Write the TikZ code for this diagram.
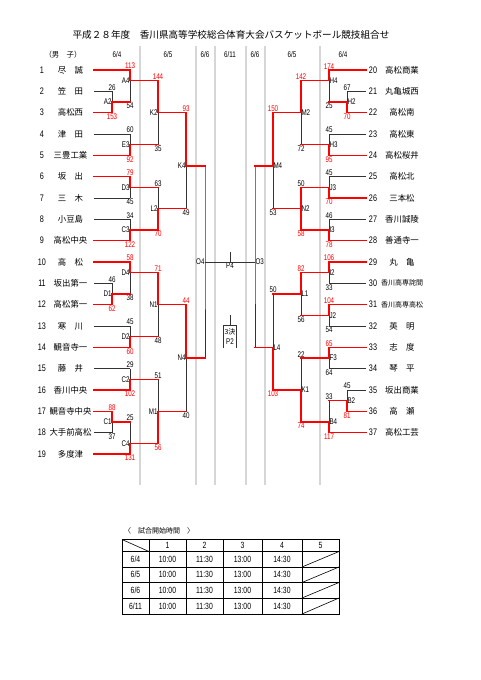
\documentclass[tikz,border=0pt]{standalone}
\usepackage{fontspec}
\setmainfont{Liberation Sans}
\newfontfamily\jp{Noto Sans CJK JP}
\newfontfamily\nar[FakeStretch=0.76]{Liberation Sans}
\newcommand{\scf}{\nar\fontsize{8.2}{9}\selectfont}
\newcommand{\nmf}{\nar\fontsize{9.5}{10}\selectfont}
\newcommand{\tmf}{\jp\fontsize{8.4}{9}\selectfont}
\newcommand{\smf}{\jp\fontsize{7}{8}\selectfont}
\newcommand{\tbf}{\nar\fontsize{9}{9}\selectfont}

\begin{document}
\begin{tikzpicture}[x=1pt, y=-1pt]

\tikzstyle{every node} = [inner sep=0.8pt]
\tikzstyle{hi} = [draw=red, line width=1.6pt, line cap=rect]
\tikzstyle{lo} = [draw=black!80, line width=0.7pt]
\tikzstyle{col} = [draw=black!16, line width=1.4pt]
\tikzstyle{up} = [anchor=south, font=\scf]
\tikzstyle{dn} = [anchor=north, font=\scf]
\tikzstyle{jl} = [anchor=east, inner sep=0.3pt, font=\scf]
\tikzstyle{jr} = [anchor=west, inner sep=0.3pt, font=\scf]
\tikzstyle{num} = [font=\nmf]
\tikzstyle{team} = [font=\tmf]
\tikzstyle{cell} = [font=\tbf]

\useasboundingbox (0,0) rectangle (481,680);

% title and day headers
\node[font=\jp\fontsize{9.6}{10}\selectfont] (title) at (231,35) {平成２８年度　香川県高等学校総合体育大会バスケットボール競技組合せ};
\node[font=\jp\fontsize{7.4}{8}\selectfont] (sex) at (63,55) {（男　子）};
\node[font=\scf] (hd1) at (117,55) {6/4};
\node[font=\scf] (hd2) at (168,55) {6/5};
\node[font=\scf] (hd3) at (205,55) {6/6};
\node[font=\scf] (hd4) at (230,55) {6/11};
\node[font=\scf] (hd5) at (255,55) {6/6};
\node[font=\scf] (hd6) at (292,55) {6/5};
\node[font=\scf] (hd7) at (343,55) {6/4};

% day columns
\draw[col] (140,46) -- (140,485);
\draw[col] (196,46) -- (196,485);
\draw[col] (215,46) -- (215,485);
\draw[col] (246,46) -- (246,485);
\draw[col] (265,46) -- (265,485);
\draw[col] (320,46) -- (320,485);

\begin{scope}[shift={(0,70)}, y=-10.667pt]

% left teams
\node[num] (n1) at (42,0) {1};
\node[team] (t1) at (70.5,0) {尽　誠};
\coordinate (s1) at (94,0);
\node[num] (n2) at (42,2) {2};
\node[team] (t2) at (70.5,2) {笠　田};
\coordinate (s2) at (94,2);
\node[num] (n3) at (42,4) {3};
\node[team] (t3) at (70.5,4) {高松西};
\coordinate (s3) at (94,4);
\node[num] (n4) at (42,6) {4};
\node[team] (t4) at (70.5,6) {津　田};
\coordinate (s4) at (94,6);
\node[num] (n5) at (42,8) {5};
\node[team] (t5) at (70.5,8) {三豊工業};
\coordinate (s5) at (94,8);
\node[num] (n6) at (42,10) {6};
\node[team] (t6) at (70.5,10) {坂　出};
\coordinate (s6) at (94,10);
\node[num] (n7) at (42,12) {7};
\node[team] (t7) at (70.5,12) {三　木};
\coordinate (s7) at (94,12);
\node[num] (n8) at (42,14) {8};
\node[team] (t8) at (70.5,14) {小豆島};
\coordinate (s8) at (94,14);
\node[num] (n9) at (42,16) {9};
\node[team] (t9) at (70.5,16) {高松中央};
\coordinate (s9) at (94,16);
\node[num] (n10) at (42,18) {10};
\node[team] (t10) at (70.5,18) {高　松};
\coordinate (s10) at (94,18);
\node[num] (n11) at (42,20) {11};
\node[team] (t11) at (70.5,20) {坂出第一};
\coordinate (s11) at (94,20);
\node[num] (n12) at (42,22) {12};
\node[team] (t12) at (70.5,22) {高松第一};
\coordinate (s12) at (94,22);
\node[num] (n13) at (42,24) {13};
\node[team] (t13) at (70.5,24) {寒　川};
\coordinate (s13) at (94,24);
\node[num] (n14) at (42,26) {14};
\node[team] (t14) at (70.5,26) {観音寺一};
\coordinate (s14) at (94,26);
\node[num] (n15) at (42,28) {15};
\node[team] (t15) at (70.5,28) {藤　井};
\coordinate (s15) at (94,28);
\node[num] (n16) at (42,30) {16};
\node[team] (t16) at (70.5,30) {香川中央};
\coordinate (s16) at (94,30);
\node[num] (n17) at (42,32) {17};
\node[team] (t17) at (70.5,32) {観音寺中央};
\coordinate (s17) at (94,32);
\node[num] (n18) at (42,34) {18};
\node[team] (t18) at (70.5,34) {大手前高松};
\coordinate (s18) at (94,34);
\node[num] (n19) at (42,36) {19};
\node[team] (t19) at (70.5,36) {多度津};
\coordinate (s19) at (94,36);

% right teams
\node[num] (n20) at (373,0) {20};
\node[team] (t20) at (402,0) {高松商業};
\coordinate (s20) at (366,0);
\node[num] (n21) at (373,2) {21};
\node[team] (t21) at (402,2) {丸亀城西};
\coordinate (s21) at (366,2);
\node[num] (n22) at (373,4) {22};
\node[team] (t22) at (402,4) {高松南};
\coordinate (s22) at (366,4);
\node[num] (n23) at (373,6) {23};
\node[team] (t23) at (402,6) {高松東};
\coordinate (s23) at (366,6);
\node[num] (n24) at (373,8) {24};
\node[team] (t24) at (402,8) {高松桜井};
\coordinate (s24) at (366,8);
\node[num] (n25) at (373,10) {25};
\node[team] (t25) at (402,10) {高松北};
\coordinate (s25) at (366,10);
\node[num] (n26) at (373,12) {26};
\node[team] (t26) at (402,12) {三本松};
\coordinate (s26) at (366,12);
\node[num] (n27) at (373,14) {27};
\node[team] (t27) at (402,14) {香川誠陵};
\coordinate (s27) at (366,14);
\node[num] (n28) at (373,16) {28};
\node[team] (t28) at (402,16) {善通寺一};
\coordinate (s28) at (366,16);
\node[num] (n29) at (373,18) {29};
\node[team] (t29) at (402,18) {丸　亀};
\coordinate (s29) at (366,18);
\node[num] (n30) at (373,20) {30};
\node[font=\smf] (t30) at (402,20) {香川高専詫間};
\coordinate (s30) at (366,20);
\node[num] (n31) at (373,22) {31};
\node[font=\smf] (t31) at (402,22) {香川高専高松};
\coordinate (s31) at (366,22);
\node[num] (n32) at (373,24) {32};
\node[team] (t32) at (402,24) {英　明};
\coordinate (s32) at (366,24);
\node[num] (n33) at (373,26) {33};
\node[team] (t33) at (402,26) {志　度};
\coordinate (s33) at (366,26);
\node[num] (n34) at (373,28) {34};
\node[team] (t34) at (402,28) {琴　平};
\coordinate (s34) at (366,28);
\node[num] (n35) at (373,30) {35};
\node[team] (t35) at (402,30) {坂出商業};
\coordinate (s35) at (366,30);
\node[num] (n36) at (373,32) {36};
\node[team] (t36) at (402,32) {高　瀬};
\coordinate (s36) at (366,32);
\node[num] (n37) at (373,34) {37};
\node[team] (t37) at (402,34) {高松工芸};
\coordinate (s37) at (366,34);

% left games, 6/4
\node[up] (a2t) at (112,2) {26};
\node[dn, red] (a2b) at (112,4) {153};
\node[jl] (A2) at (112,3) {A2};
\node[up, red] (a4t) at (130,0) {113};
\node[dn] (a4b) at (130,3) {54};
\node[jl] (A4) at (130,1) {A4};
\node[up] (e3t) at (130,6) {60};
\node[dn, red] (e3b) at (130,8) {92};
\node[jl] (E3) at (130,7) {E3};
\node[up, red] (d3t) at (130,10) {79};
\node[dn] (d3b) at (130,12) {45};
\node[jl] (D3) at (130,11) {D3};
\node[up] (c3t) at (130,14) {34};
\node[dn, red] (c3b) at (130,16) {122};
\node[jl] (C3) at (130,15) {C3};
\node[up] (d1t) at (112,20) {46};
\node[dn, red] (d1b) at (112,22) {62};
\node[jl] (D1) at (112,21) {D1};
\node[up, red] (d4t) at (130,18) {58};
\node[dn] (d4b) at (130,21) {38};
\node[jl] (D4) at (130,19) {D4};
\node[up] (d2t) at (130,24) {45};
\node[dn, red] (d2b) at (130,26) {60};
\node[jl] (D2) at (130,25) {D2};
\node[up] (c2t) at (130,28) {29};
\node[dn, red] (c2b) at (130,30) {102};
\node[jl] (C2) at (130,29) {C2};
\node[up, red] (c1t) at (112,32) {88};
\node[dn] (c1b) at (112,34) {37};
\node[jl] (C1) at (112,33) {C1};
\node[up] (c4t) at (130,33) {25};
\node[dn, red] (c4b) at (130,36) {131};
\node[jl] (C4) at (130,35) {C4};

% left games, 6/5 and 6/6
\node[up, red] (k2t) at (158,1) {144};
\node[dn] (k2b) at (158,7) {35};
\node[jl] (K2) at (158,4) {K2};
\node[up] (l2t) at (158,11) {63};
\node[dn, red] (l2b) at (158,15) {70};
\node[jl] (L2) at (158,13) {L2};
\node[up, red] (n1t) at (158,19) {71};
\node[dn] (n1b) at (158,25) {48};
\node[jl] (N1) at (158,22) {N1};
\node[up] (m1t) at (158,29) {51};
\node[dn, red] (m1b) at (158,35) {56};
\node[jl] (M1) at (158,32) {M1};
\node[up, red] (k4t) at (186,4) {93};
\node[dn] (k4b) at (186,13) {49};
\node[jl] (K4) at (186,9) {K4};
\node[up, red] (n4t) at (186,22) {44};
\node[dn] (n4b) at (186,32) {40};
\node[jl] (N4) at (186,27) {N4};
\coordinate (f1) at (205,9);
\coordinate (f2) at (205,27);
\node[jl] (O4) at (205,18) {O4};

% right games, 6/4
\node[up] (h2t) at (347,2) {67};
\node[dn, red] (h2b) at (347,4) {70};
\node[jr] (H2) at (347,3) {H2};
\node[up, red] (h4t) at (329,0) {174};
\node[dn] (h4b) at (329,3) {25};
\node[jr] (H4) at (329,1) {H4};
\node[up] (h3t) at (329,6) {45};
\node[dn, red] (h3b) at (329,8) {95};
\node[jr] (H3) at (329,7) {H3};
\node[up] (j3t) at (329,10) {45};
\node[dn, red] (j3b) at (329,12) {70};
\node[jr] (J3) at (329,11) {J3};
\node[up] (i3t) at (329,14) {46};
\node[dn, red] (i3b) at (329,16) {78};
\node[jr] (I3) at (329,15) {I3};
\node[up, red] (i2t) at (329,18) {106};
\node[dn] (i2b) at (329,20) {33};
\node[jr] (I2) at (329,19) {I2};
\node[up, red] (j2t) at (329,22) {104};
\node[dn] (j2b) at (329,24) {54};
\node[jr] (J2) at (329,23) {J2};
\node[up, red] (f3t) at (329,26) {65};
\node[dn] (f3b) at (329,28) {64};
\node[jr] (F3) at (329,27) {F3};
\node[up] (b2t) at (347,30) {45};
\node[dn, red] (b2b) at (347,32) {81};
\node[jr] (B2) at (347,31) {B2};
\node[up] (b4t) at (329,31) {33};
\node[dn, red] (b4b) at (329,34) {117};
\node[jr] (B4) at (329,33) {B4};

% right games, 6/5 and 6/6
\node[up, red] (m2t) at (301,1) {142};
\node[dn] (m2b) at (301,7) {72};
\node[jr] (M2) at (301,4) {M2};
\node[up] (n2t) at (301,11) {50};
\node[dn, red] (n2b) at (301,15) {58};
\node[jr] (N2) at (301,13) {N2};
\node[up, red] (l1t) at (301,19) {82};
\node[dn] (l1b) at (301,23) {56};
\node[jr] (L1) at (301,21) {L1};
\node[up] (k1t) at (301,27) {22};
\node[dn, red] (k1b) at (301,33) {74};
\node[jr] (K1) at (301,30) {K1};
\node[up, red] (m4t) at (273,4) {150};
\node[dn] (m4b) at (273,13) {53};
\node[jr] (M4) at (273,9) {M4};
\node[up] (l4t) at (273,21) {50};
\node[dn, red] (l4b) at (273,30) {103};
\node[jr] (L4) at (273,26) {L4};
\coordinate (g1) at (255,9);
\coordinate (g2) at (255,26);
\node[jr] (O3) at (255,18) {O3};

% final and 3rd place
\node[font=\scf, anchor=north] (P4) at (230,18) {P4};
\coordinate (p4top) at (230,17.05);
\node[font=\jp\fontsize{7}{7}\selectfont, inner sep=0pt] (p2a) at (230,24.56) {3決};
\node[font=\scf, inner sep=0pt] (P2) at (230,25.5) {P2};
\coordinate (p2top) at (230,22.97);
\coordinate (p2mid) at (230,23.9);

% left lines
\draw[lo] (s2) -- (a2t.south);
\draw[lo] (s4) -- (e3t.south);
\draw[lo] (s7) -- (d3b.north);
\draw[lo] (s8) -- (c3t.south);
\draw[lo] (s11) -- (d1t.south);
\draw[lo] (s13) -- (d2t.south);
\draw[lo] (s15) -- (c2t.south);
\draw[lo] (s18) -- (c1b.north);
\draw[lo] (a2t.south) -- (A2.east);
\draw[lo] (A4.east) -- (a4b.north);
\draw[lo] (e3t.south) -- (E3.east);
\draw[lo] (K2.east) -- (k2b.north);
\draw[lo] (D3.east) -- (d3b.north);
\draw[lo] (c3t.south) -- (C3.east);
\draw[lo] (l2t.south) -- (L2.east);
\draw[lo] (K4.east) -- (k4b.north);
\draw[lo] (d1t.south) -- (D1.east);
\draw[lo] (D4.east) -- (d4b.north);
\draw[lo] (d2t.south) -- (D2.east);
\draw[lo] (N1.east) -- (n1b.north);
\draw[lo] (c2t.south) -- (C2.east);
\draw[lo] (C1.east) -- (c1b.north);
\draw[lo] (c4t.south) -- (C4.east);
\draw[lo] (m1t.south) -- (M1.east);
\draw[lo] (N4.east) -- (n4b.north);
\draw[lo] (f1) -- (O4.east) -- (f2);
\draw[lo] (O4.east) -- (O3.west);
\draw[lo] (p4top) -- (P4.north);

\draw[hi] (s1) -- (a4t.south);
\draw[hi] (s3) -- (a2b.north);
\draw[hi] (s5) -- (e3b.north);
\draw[hi] (s6) -- (d3t.south);
\draw[hi] (s9) -- (c3b.north);
\draw[hi] (s10) -- (d4t.south);
\draw[hi] (s12) -- (d1b.north);
\draw[hi] (s14) -- (d2b.north);
\draw[hi] (s16) -- (c2b.north);
\draw[hi] (s17) -- (c1t.south);
\draw[hi] (s19) -- (c4b.north);
\draw[hi] (a2b.north) -- (A2.east) -- (a4b.north);
\draw[hi] (a4t.south) -- (A4.east) -- (k2t.south);
\draw[hi] (e3b.north) -- (E3.east) -- (k2b.north);
\draw[hi] (k2t.south) -- (K2.east) -- (k4t.south);
\draw[hi] (d3t.south) -- (D3.east) -- (l2t.south);
\draw[hi] (c3b.north) -- (C3.east) -- (l2b.north);
\draw[hi] (l2b.north) -- (L2.east) -- (k4b.north);
\draw[hi] (k4t.south) -- (K4.east) -- (f1);
\draw[hi] (d1b.north) -- (D1.east) -- (d4b.north);
\draw[hi] (d4t.south) -- (D4.east) -- (n1t.south);
\draw[hi] (d2b.north) -- (D2.east) -- (n1b.north);
\draw[hi] (n1t.south) -- (N1.east) -- (n4t.south);
\draw[hi] (c2b.north) -- (C2.east) -- (m1t.south);
\draw[hi] (c1t.south) -- (C1.east) -- (c4t.south);
\draw[hi] (c4b.north) -- (C4.east) -- (m1b.north);
\draw[hi] (m1b.north) -- (M1.east) -- (n4b.north);
\draw[hi] (n4t.south) -- (N4.east) -- (f2);

% right lines
\draw[lo] (s21) -- (h2t.south);
\draw[lo] (s23) -- (h3t.south);
\draw[lo] (s25) -- (j3t.south);
\draw[lo] (s27) -- (i3t.south);
\draw[lo] (s30) -- (i2b.north);
\draw[lo] (s32) -- (j2b.north);
\draw[lo] (s34) -- (f3b.north);
\draw[lo] (s35) -- (b2t.south);
\draw[lo] (h2t.south) -- (H2.west);
\draw[lo] (H4.west) -- (h4b.north);
\draw[lo] (h3t.south) -- (H3.west);
\draw[lo] (M2.west) -- (m2b.north);
\draw[lo] (j3t.south) -- (J3.west);
\draw[lo] (i3t.south) -- (I3.west);
\draw[lo] (M4.west) -- (m4b.north);
\draw[lo] (I2.west) -- (i2b.north);
\draw[lo] (J2.west) -- (j2b.north);
\draw[lo] (L1.west) -- (l1b.north);
\draw[lo] (F3.west) -- (f3b.north);
\draw[lo] (b2t.south) -- (B2.west);
\draw[lo] (b4t.south) -- (B4.west);
\draw[lo] (k1t.south) -- (K1.west);
\draw[lo] (l4t.south) -- (L4.west);
\draw[lo] (g1) -- (O3.west) -- (g2);

\draw[hi] (s20) -- (h4t.south);
\draw[hi] (s22) -- (h2b.north);
\draw[hi] (s24) -- (h3b.north);
\draw[hi] (s26) -- (j3b.north);
\draw[hi] (s28) -- (i3b.north);
\draw[hi] (s29) -- (i2t.south);
\draw[hi] (s31) -- (j2t.south);
\draw[hi] (s33) -- (f3t.south);
\draw[hi] (s36) -- (b2b.north);
\draw[hi] (s37) -- (b4b.north);
\draw[hi] (h2b.north) -- (H2.west) -- (h4b.north);
\draw[hi] (h4t.south) -- (H4.west) -- (m2t.south);
\draw[hi] (h3b.north) -- (H3.west) -- (m2b.north);
\draw[hi] (m2t.south) -- (M2.west) -- (m4t.south);
\draw[hi] (j3b.north) -- (J3.west) -- (n2t.south);
\draw[hi] (i3b.north) -- (I3.west) -- (n2b.north);
\draw[hi] (n2t.south) -- (N2.west) -- (n2b.north);
\draw[hi] (N2.west) -- (m4b.north);
\draw[hi] (m4t.south) -- (M4.west) -- (g1);
\draw[hi] (i2t.south) -- (I2.west) -- (l1t.south);
\draw[hi] (j2t.south) -- (J2.west) -- (l1b.north);
\draw[hi] (l1t.south) -- (L1.west) -- (l4t.south);
\draw[hi] (f3t.south) -- (F3.west) -- (k1t.south);
\draw[hi] (b2b.north) -- (B2.west) -- (b4t.south);
\draw[hi] (b4b.north) -- (B4.west) -- (k1b.north);
\draw[hi] (k1b.north) -- (K1.west) -- (l4b.north);
\draw[hi] (l4b.north) -- (L4.west) -- (g2);

% 3rd place mark
\draw[lo] (p2top) -- (p2mid);
\draw[lo] (223,26.06) -- (223,23.9) -- (236,23.9) -- (236,26.06);
\end{scope}

% start times
\node[font=\jp\fontsize{7}{8}\selectfont, anchor=west] (cap) at (123,531) {〈　試合開始時間　〉};
\draw[line width=0.6pt] (149,539.5) -- (149,614);
\draw[line width=0.6pt] (186,539.5) -- (186,614);
\draw[line width=0.6pt] (223,539.5) -- (223,614);
\draw[line width=0.6pt] (262,539.5) -- (262,614);
\draw[line width=0.6pt] (302,539.5) -- (302,614);
\draw[line width=0.6pt] (122,551.5) -- (339,551.5);
\draw[line width=0.6pt] (122,567) -- (339,567);
\draw[line width=0.6pt] (122,582.5) -- (339,582.5);
\draw[line width=0.6pt] (122,598) -- (339,598);
\draw[line width=1pt] (122,539.5) rectangle (339,614);
\draw[line width=0.6pt] (122,539.5) -- (149,551.5);
\draw[line width=0.6pt] (302,567) -- (339,551.5);
\draw[line width=0.6pt] (302,582.5) -- (339,567);
\draw[line width=0.6pt] (302,598) -- (339,582.5);
\draw[line width=0.6pt] (302,614) -- (339,598);

\node[cell] (c01) at (167.5,545.5) {1};
\node[cell] (c02) at (204.5,545.5) {2};
\node[cell] (c03) at (242.5,545.5) {3};
\node[cell] (c04) at (282,545.5) {4};
\node[cell] (c05) at (320.5,545.5) {5};
\node[cell] (c10) at (135.5,559.25) {6/4};
\node[cell] (c11) at (167.5,559.25) {10:00};
\node[cell] (c12) at (204.5,559.25) {11:30};
\node[cell] (c13) at (242.5,559.25) {13:00};
\node[cell] (c14) at (282,559.25) {14:30};
\node[cell] (c20) at (135.5,574.75) {6/5};
\node[cell] (c21) at (167.5,574.75) {10:00};
\node[cell] (c22) at (204.5,574.75) {11:30};
\node[cell] (c23) at (242.5,574.75) {13:00};
\node[cell] (c24) at (282,574.75) {14:30};
\node[cell] (c30) at (135.5,590.25) {6/6};
\node[cell] (c31) at (167.5,590.25) {10:00};
\node[cell] (c32) at (204.5,590.25) {11:30};
\node[cell] (c33) at (242.5,590.25) {13:00};
\node[cell] (c34) at (282,590.25) {14:30};
\node[cell] (c40) at (135.5,606) {6/11};
\node[cell] (c41) at (167.5,606) {10:00};
\node[cell] (c42) at (204.5,606) {11:30};
\node[cell] (c43) at (242.5,606) {13:00};
\node[cell] (c44) at (282,606) {14:30};
\end{tikzpicture}
\end{document}
